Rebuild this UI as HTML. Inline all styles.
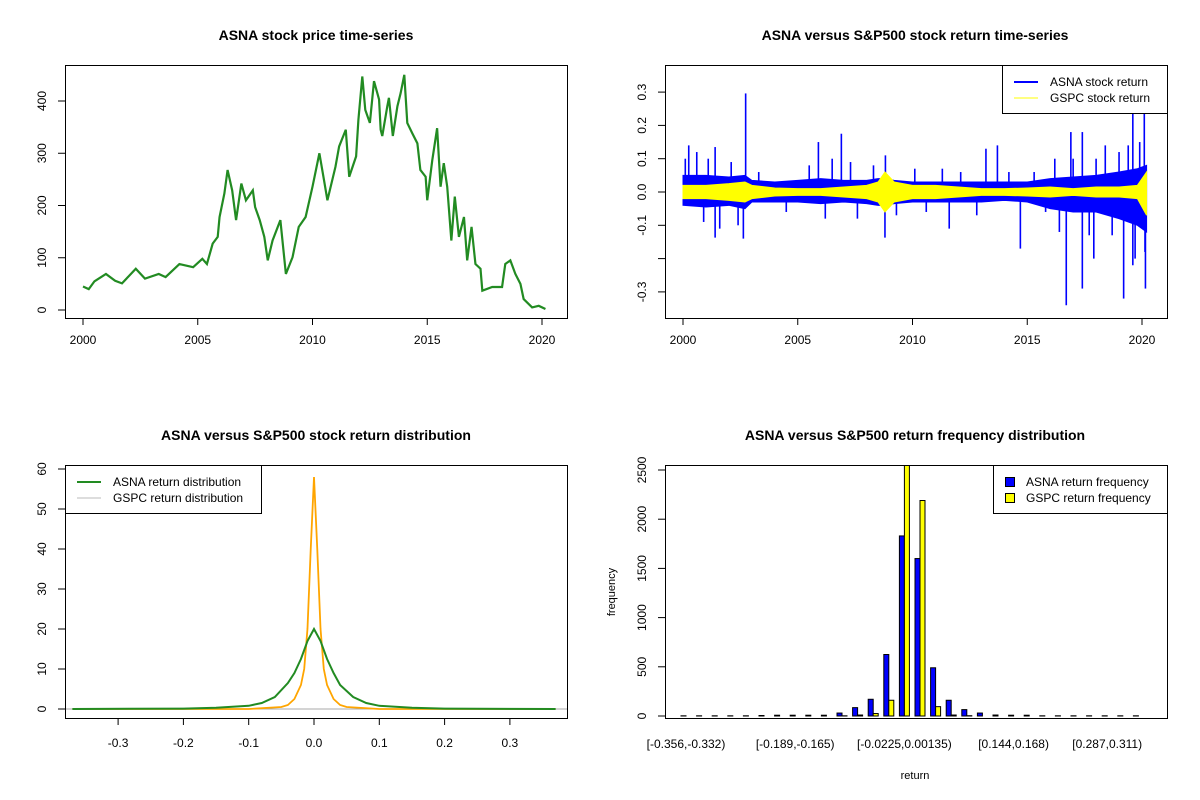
<!DOCTYPE html>
<html><head><meta charset="utf-8"><style>
body{margin:0;background:#fff;}
svg{display:block;font-family:"Liberation Sans",Arial,sans-serif;}
</style></head><body>
<svg id="c" width="1200" height="800" viewBox="0 0 1200 800"></svg>
<script>
// ---- data ----
const priceYears=[2000,2000.25,2000.5,2001,2001.4,2001.7,2002.3,2002.7,2003.3,2003.6,2004.2,2004.8,2005.2,2005.4,2005.65,2005.87,2005.95,2006.16,2006.3,2006.5,2006.67,2006.9,2007.1,2007.4,2007.5,2007.7,2007.9,2008.05,2008.26,2008.6,2008.84,2009.13,2009.4,2009.7,2010,2010.3,2010.5,2010.65,2011,2011.16,2011.45,2011.6,2011.9,2012,2012.17,2012.3,2012.5,2012.68,2012.9,2012.97,2013.04,2013.26,2013.33,2013.5,2013.7,2013.84,2014,2014.13,2014.35,2014.57,2014.7,2014.93,2015,2015.22,2015.43,2015.58,2015.72,2015.87,2016.05,2016.2,2016.38,2016.6,2016.74,2016.93,2017.1,2017.32,2017.4,2017.83,2018.26,2018.4,2018.62,2018.84,2019.06,2019.2,2019.57,2019.86,2020.15];
const priceValues=[45,40,55,69,56,51,79,60,69,63,88,82,98,88,127,140,178,223,268,229,172,242,210,229,197,172,140,95,133,172,69,101,159,178,236,300,249,210,274,313,345,255,294,364,447,383,358,438,403,345,333,390,406,333,390,415,450,358,338,319,268,255,210,287,348,236,281,236,133,217,140,178,95,159,88,79,37,44,44,88,95,69,50,21,5,8,2];
const retYears=[2000,2001,2002,2002.7,2003,2004,2005,2006,2007,2008,2008.5,2008.8,2009.2,2010,2011,2012,2013,2014,2015,2016,2017,2018,2019,2019.8,2020.2];
const asnaHi=[0.05,0.05,0.045,0.05,0.035,0.03,0.035,0.04,0.035,0.035,0.04,0.04,0.035,0.03,0.03,0.03,0.03,0.03,0.03,0.04,0.045,0.05,0.06,0.07,0.08];
const asnaLo=[-0.04,-0.045,-0.04,-0.05,-0.03,-0.03,-0.03,-0.035,-0.03,-0.035,-0.04,-0.04,-0.035,-0.03,-0.03,-0.03,-0.03,-0.025,-0.03,-0.05,-0.06,-0.06,-0.08,-0.1,-0.12];
const gspcHi=[0.02,0.02,0.025,0.03,0.02,0.012,0.01,0.01,0.015,0.02,0.03,0.06,0.03,0.02,0.02,0.015,0.01,0.01,0.012,0.015,0.01,0.015,0.015,0.02,0.06];
const gspcLo=[-0.02,-0.02,-0.025,-0.03,-0.02,-0.012,-0.01,-0.01,-0.015,-0.02,-0.03,-0.06,-0.03,-0.02,-0.02,-0.015,-0.01,-0.01,-0.012,-0.015,-0.01,-0.015,-0.015,-0.02,-0.07];
const spikeYears=[2000.25,2001.4,2001.4,2002.63,2002.73,2005.9,2006.9,2008.8,2008.82,2011.6,2013.2,2013.7,2014.7,2016.7,2016.9,2017.4,2017.4,2017.9,2018.4,2019.2,2019.4,2019.6,2019.6,2020.1,2020.15,2020.13,
2000.1,2000.6,2000.9,2001.1,2001.6,2002.1,2002.4,2003.3,2004.5,2005.5,2006.2,2006.5,2007.3,2007.6,2008.3,2009.3,2010.1,2010.6,2011.3,2012.1,2012.8,2014.2,2015.3,2015.8,2016.2,2016.4,2017.0,2017.7,2018.0,2018.7,2019.0,2019.7,2019.9];
const spikeValues=[0.14,0.135,-0.137,-0.14,0.296,0.15,0.175,-0.137,0.11,-0.11,0.13,0.14,-0.17,-0.34,0.18,0.18,-0.29,-0.2,0.14,-0.32,0.14,0.26,-0.22,0.27,-0.29,-0.18,
0.1,0.12,-0.09,0.1,-0.11,0.09,-0.1,0.06,-0.06,0.08,-0.08,0.1,0.09,-0.08,0.08,-0.07,0.07,-0.06,0.07,0.06,-0.07,0.06,0.06,-0.06,0.1,-0.12,0.1,-0.13,0.1,-0.13,0.12,-0.2,0.15];
const asnaDensX=[-0.37,-0.2,-0.15,-0.1,-0.08,-0.06,-0.04,-0.03,-0.02,-0.01,0,0.01,0.02,0.03,0.04,0.06,0.08,0.1,0.15,0.2,0.37];
const asnaDensY=[0,0.1,0.3,0.8,1.5,3,6.5,9,12.5,17,20,17,12.5,9,6,3,1.5,0.8,0.3,0.1,0];
const gspcDensX=[-0.37,-0.1,-0.05,-0.04,-0.03,-0.02,-0.015,-0.01,-0.005,0,0.005,0.01,0.015,0.02,0.03,0.04,0.05,0.1,0.37];
const gspcDensY=[0,0,0.5,1,2.5,6,10,20,40,58,40,20,10,6,2.5,1,0.5,0,0];
const binLabels=["[-0.356,-0.332)","[-0.189,-0.165)","[-0.0225,0.00135)","[0.144,0.168)","[0.287,0.311)"];
const binLabelIdx=[0,7,14,21,27];
const asnaFreq=[2,2,2,2,2,5,8,8,8,8,30,85,170,625,1830,1600,490,160,65,30,10,8,8,2,2,2,2,2,2,2];
const gspcFreq=[0,0,0,0,0,0,0,0,0,0,2,10,25,160,2700,2190,95,10,3,0,0,0,0,0,0,0,0,0,0,0];

const NS="http://www.w3.org/2000/svg";
const svg=document.getElementById('c');
function mk(tag,attrs,parent){const e=document.createElementNS(NS,tag);for(const k in attrs)e.setAttribute(k,attrs[k]);(parent||svg).appendChild(e);return e;}
function txt(x,y,s,opt,parent){const t=mk('text',Object.assign({x:x,y:y,'font-size':12,'text-anchor':'middle',fill:'#000'},opt||{}),parent);t.textContent=s;return t;}

// ---- scales ----
const p1x=y=>83+(y-2000)*22.95, p1y=v=>310-v*0.5225;
const p2x=y=>683+(y-2000)*22.95, p2y=v=>192-v*333;
const p3x=v=>314+v*653, p3y=v=>709-v*4;
const p4y=v=>716-v*0.0984, p4x=i=>681+i*15.6;

// ---- panel 1 ----
let g=mk('g',{});


let t=txt(316,40,'ASNA stock price time-series',{'font-size':14,'font-weight':'bold'},g);


let pl=mk('polyline',{points:priceYears.map((y,i)=>p1x(y)+','+p1y(priceValues[i])).join(' '),fill:'none',stroke:'#228b22','stroke-width':2.2},g);


mk('rect',{x:65.5,y:65.5,width:502,height:253,fill:'none',stroke:'#000'},g);
[2000,2005,2010,2015,2020].forEach(y=>{mk('line',{x1:p1x(y),x2:p1x(y),y1:318,y2:325,stroke:'#000'},g);txt(p1x(y),344,String(y),{},g);});
[0,100,200,300,400].forEach(v=>{mk('line',{x1:58,x2:65,y1:p1y(v),y2:p1y(v),stroke:'#000'},g);txt(0,0,String(v),{transform:`translate(46,${p1y(v)}) rotate(-90)`},g);});

// ---- panel 2 ----
g=mk('g',{});


t=txt(915,40,'ASNA versus S&P500 stock return time-series',{'font-size':14,'font-weight':'bold'},g);


let ap=mk('polygon',{points:retYears.map((y,i)=>p2x(y)+','+p2y(asnaHi[i])).concat(retYears.slice().reverse().map((y,j)=>p2x(y)+','+p2y(asnaLo[retYears.length-1-j]))).join(' '),fill:'#0000ff',stroke:'#0000ff'},g);


spikeYears.forEach((y,i)=>{const l=mk('line',{x1:p2x(y),x2:p2x(y),y1:p2y(0),y2:p2y(spikeValues[i]),stroke:'#0000ff','stroke-width':1.6},g);

});
let gp=mk('polygon',{points:retYears.map((y,i)=>p2x(y)+','+p2y(gspcHi[i])).concat(retYears.slice().reverse().map((y,j)=>p2x(y)+','+p2y(gspcLo[retYears.length-1-j]))).join(' '),fill:'#ffff00',stroke:'#ffff00'},g);


mk('rect',{x:665.5,y:65.5,width:502,height:253,fill:'none',stroke:'#000'},g);
[2000,2005,2010,2015,2020].forEach(y=>{mk('line',{x1:p2x(y),x2:p2x(y),y1:318,y2:325,stroke:'#000'},g);txt(p2x(y),344,String(y),{},g);});
[0.3,0.2,0.1,0,-0.1,-0.2,-0.3].forEach(v=>{mk('line',{x1:658,x2:665,y1:p2y(v),y2:p2y(v),stroke:'#000'},g);if(v!==-0.2)txt(0,0,v.toFixed(1),{transform:`translate(646,${p2y(v)}) rotate(-90)`},g);});
let lg=mk('g',{},g);


mk('rect',{x:1002.5,y:65.5,width:165,height:48,fill:'#fff',stroke:'#000'},lg);
mk('line',{x1:1014,x2:1038,y1:82,y2:82,stroke:'#0000ff','stroke-width':2},lg);
mk('line',{x1:1014,x2:1038,y1:98,y2:98,stroke:'#ffff00','stroke-width':1},lg);
txt(1050,86,'ASNA stock return',{'text-anchor':'start'},lg);
txt(1050,102,'GSPC stock return',{'text-anchor':'start'},lg);

// ---- panel 3 ----
g=mk('g',{});


t=txt(316,440,'ASNA versus S&P500 stock return distribution',{'font-size':14,'font-weight':'bold'},g);


mk('line',{x1:65,x2:567,y1:p3y(0),y2:p3y(0),stroke:'#aaa'},g);
let od=mk('polyline',{points:gspcDensX.map((x,i)=>p3x(x)+','+p3y(gspcDensY[i])).join(' '),fill:'none',stroke:'#ffa500','stroke-width':1.8},g);


let ad=mk('polyline',{points:asnaDensX.map((x,i)=>p3x(x)+','+p3y(asnaDensY[i])).join(' '),fill:'none',stroke:'#228b22','stroke-width':2},g);


mk('rect',{x:65.5,y:465.5,width:502,height:253,fill:'none',stroke:'#000'},g);
[-0.3,-0.2,-0.1,0,0.1,0.2,0.3].forEach(v=>{mk('line',{x1:p3x(v),x2:p3x(v),y1:718,y2:725,stroke:'#000'},g);txt(p3x(v),747,v.toFixed(1),{},g);});
[0,10,20,30,40,50,60].forEach(v=>{mk('line',{x1:58,x2:65,y1:p3y(v),y2:p3y(v),stroke:'#000'},g);txt(0,0,String(v),{transform:`translate(46,${p3y(v)}) rotate(-90)`},g);});
lg=mk('g',{},g);


mk('rect',{x:65.5,y:465.5,width:196,height:48,fill:'#fff',stroke:'#000'},lg);
mk('line',{x1:77,x2:101,y1:482,y2:482,stroke:'#228b22','stroke-width':2},lg);
mk('line',{x1:77,x2:101,y1:498,y2:498,stroke:'#bbb','stroke-width':1},lg);
txt(113,486,'ASNA return distribution',{'text-anchor':'start'},lg);
txt(113,502,'GSPC return distribution',{'text-anchor':'start'},lg);

// ---- panel 4 ----
g=mk('g',{});


t=txt(915,440,'ASNA versus S&P500 return frequency distribution',{'font-size':14,'font-weight':'bold'},g);


let cg=mk('g',{'clip-path':'url(#clip4)'},g);
const cp=mk('clipPath',{id:'clip4'},g);mk('rect',{x:665,y:465,width:502,height:253},cp);
asnaFreq.forEach((v,i)=>{const r=mk('rect',{x:p4x(i),y:p4y(v),width:5,height:p4y(0)-p4y(v),fill:'#0000ff',stroke:'#000','stroke-width':1},cg);

});
gspcFreq.forEach((v,i)=>{const r=mk('rect',{x:p4x(i)+5,y:p4y(v),width:5,height:p4y(0)-p4y(v),fill:'#ffff00',stroke:'#000','stroke-width':1},cg);

});
mk('rect',{x:665.5,y:465.5,width:502,height:253,fill:'none',stroke:'#000'},g);
[0,500,1000,1500,2000,2500].forEach(v=>{mk('line',{x1:658,x2:665,y1:p4y(v),y2:p4y(v),stroke:'#000'},g);txt(0,0,String(v),{transform:`translate(646,${p4y(v)}) rotate(-90)`},g);});
binLabelIdx.forEach((ix,i)=>{txt(p4x(ix)+5,748,binLabels[i],{},g);});
t=txt(915,779,'return',{'font-size':11},g);


t=txt(0,0,'frequency',{'font-size':11,transform:'translate(615,592) rotate(-90)'},g);


lg=mk('g',{},g);


mk('rect',{x:993.5,y:465.5,width:174,height:48,fill:'#fff',stroke:'#000'},lg);
mk('rect',{x:1005.5,y:477.5,width:9,height:9,fill:'#0000ff',stroke:'#000'},lg);
mk('rect',{x:1005.5,y:493.5,width:9,height:9,fill:'#ffff00',stroke:'#000'},lg);
txt(1026,486,'ASNA return frequency',{'text-anchor':'start'},lg);
txt(1026,502,'GSPC return frequency',{'text-anchor':'start'},lg);
</script>
</body></html>
